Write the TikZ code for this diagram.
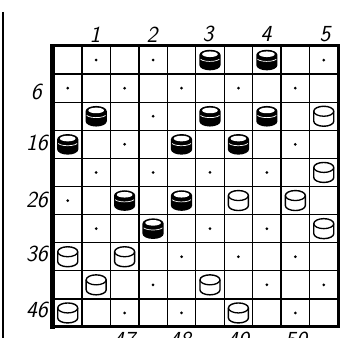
\documentclass[tikz,border=0pt]{standalone}
\begin{document}
\begin{tikzpicture}[x=1pt,y=1pt,
  lbl/.style={font=\fontsize{23}{23}\selectfont\sffamily\itshape, inner sep=0pt},
  gridline/.style={line width=1.3pt},
  wpiece/.pic={
    \draw[line width=1.4pt, fill=white, line join=round]
      (-10pt,5pt) -- (-10pt,-5pt) arc[start angle=180,end angle=360,x radius=10pt,y radius=5pt]
      -- (10pt,5pt) arc[start angle=0,end angle=180,x radius=10pt,y radius=5pt] -- cycle;
    \draw[line width=1.3pt] (-10pt,5pt) arc[start angle=180,end angle=360,x radius=10pt,y radius=5pt];
  },
  bpiece/.pic={
    \fill[black]
      (-10.6pt,5pt) -- (-10.6pt,-5pt) arc[start angle=180,end angle=360,x radius=10.6pt,y radius=5.3pt]
      -- (10.6pt,5pt) arc[start angle=0,end angle=180,x radius=10.6pt,y radius=5.3pt] -- cycle;
    \fill[white] (0pt,5.8pt) ellipse[x radius=7.8pt, y radius=2.8pt];
    \draw[white, line width=0.7pt] (-9.4pt,0.8pt) arc[start angle=200,end angle=340,x radius=10pt,y radius=3.3pt];
  }]
\useasboundingbox (0,0) rectangle (341,338);
% left margin line
\draw[line width=2pt] (3,326) -- (3,0);
% board
\begin{scope}[shift={(53.5,292)}, x=28.45pt, y=-28.1pt]
  \foreach \i in {1,...,9} {
    \draw[gridline] (\i,0) -- (\i,10);
    \draw[gridline] (0,\i) -- (10,\i);
  }
  \draw[line width=3pt] (0,0) rectangle (10,10);
  \draw[line width=5pt] (-0.04,-0.06) -- (-0.04,10.06);
  % dots on empty dark squares
  \foreach \c/\r in {2/1,4/1,10/1, 1/2,3/2,5/2,7/2,9/2, 4/3, 3/4,9/4, 2/5,4/5,6/5,8/5,
                     1/6, 2/7,6/7,8/7, 5/8,7/8,9/8, 4/9,8/9,10/9, 3/10,5/10,9/10}
    \fill (\c-0.5,\r-0.5) circle[radius=1.5pt];
  % black pieces
  \foreach \c/\r in {6/1,8/1, 2/3,6/3,8/3, 1/4,5/4,7/4, 3/6,5/6, 4/7}
    \pic at (\c-0.5,\r-0.5) {bpiece};
  % white pieces
  \foreach \c/\r in {10/3, 10/5, 7/6,9/6, 10/7, 1/8,3/8, 2/9,6/9, 1/10,7/10}
    \pic at (\c-0.5,\r-0.5) {wpiece};
\end{scope}
% labels
\node[lbl] (t1) at (95,303) {1};
\node[lbl] (t2) at (152,303) {2};
\node[lbl] (t3) at (208,304) {3};
\node[lbl] (t4) at (266,304) {4};
\node[lbl] (t5) at (325,304) {5};
\node[lbl, anchor=east] (l6)  at (42,246) {6};
\node[lbl, anchor=east] (l16) at (48,195) {16};
\node[lbl, anchor=east] (l26) at (48,138) {26};
\node[lbl, anchor=east] (l36) at (48,84) {36};
\node[lbl, anchor=east] (l46) at (48,28) {46};
\node[lbl] (b47) at (124,-2) {47};
\node[lbl] (b48) at (180,-2) {48};
\node[lbl] (b49) at (238,-2) {49};
\node[lbl] (b50) at (296,-2) {50};
\end{tikzpicture}
\end{document}
